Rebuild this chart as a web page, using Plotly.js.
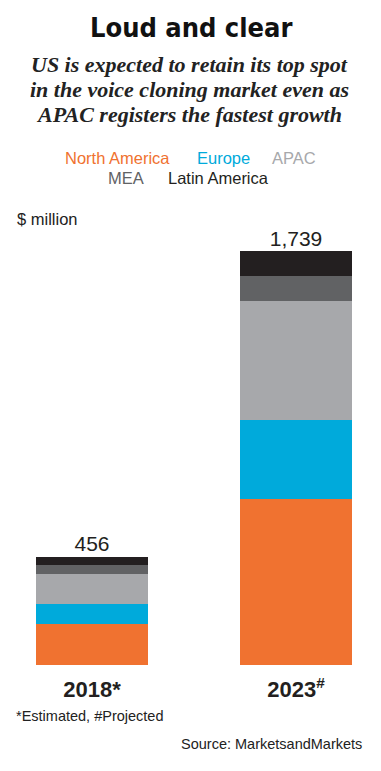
<!DOCTYPE html>
<html><head><meta charset="utf-8">
<script src="https://cdn.plot.ly/plotly-3.0.1.min.js"></script>
<style>html,body{margin:0;padding:0;background:#fff}#chart{width:381px;height:771px}</style>
</head><body><div id="chart"></div>
<script>
const years = ["2018", "2023"];
const yearLabels = ["<b>2018*</b>", "<b>2023<sup>#</sup></b>"];
const regions = ["North America", "Europe", "APAC", "MEA", "Latin America"];
const colors = ["#F07230", "#00AADB", "#A7A8AB", "#616264", "#231F20"];
const northAmerica = [172, 697];
const europe = [86, 335];
const apac = [124, 497];
const mea = [38, 108];
const latinAmerica = [36, 102];
const totals = [456, 1739];
const totalLabels = ["456", "1,739"];
const seriesValues = [northAmerica, europe, apac, mea, latinAmerica];

const W = 381, H = 771, T = 230, B = 105.5;
const plotH = H - T - B;
function py(Y) { return (H - B - Y) / plotH; }
function px(X) { return X / W; }

const traces = regions.map((r, i) => ({
  type: "bar", name: r, x: years, y: seriesValues[i],
  marker: { color: colors[i], line: { width: 0 } },
  width: 0.549, hoverinfo: "skip"
}));
traces.push({
  type: "scatter", mode: "text", x: years, y: totals, text: totalLabels,
  textposition: "top center",
  textfont: { family: "Liberation Sans, Arial, sans-serif", size: 21, color: "#231F20" },
  hoverinfo: "skip", showlegend: false
});

const font = "Liberation Sans, Arial, sans-serif";
const serif = "Liberation Serif, DejaVu Serif, serif";
const annotations = [
  { text: "<b>Loud and clear</b>", x: px(190.5), y: py(27), font: { family: "DejaVu Sans Condensed, Liberation Sans Narrow, sans-serif", size: 27, color: "#111" } },
  { text: "<b><i>US is expected to retain its top spot</i></b>", x: px(189), y: py(64), font: { family: serif, size: 22, color: "#222" } },
  { text: "<b><i>in the voice cloning market even as</i></b>", x: px(189), y: py(89), font: { family: serif, size: 22, color: "#222" } },
  { text: "<b><i>APAC registers the fastest growth</i></b>", x: px(189), y: py(114), font: { family: serif, size: 22, color: "#222" } },
  { text: regions[0], x: px(117), y: py(158), font: { family: font, size: 16.5, color: colors[0] } },
  { text: regions[1], x: px(223), y: py(158), font: { family: font, size: 16.5, color: colors[1] } },
  { text: regions[2], x: px(294), y: py(158), font: { family: font, size: 16.5, color: colors[2] } },
  { text: regions[3], x: px(126), y: py(178), font: { family: font, size: 16.5, color: colors[3] } },
  { text: regions[4], x: px(218), y: py(178), font: { family: font, size: 16.5, color: colors[4] } },
  { text: "$ million", x: px(15), y: py(219), xanchor: "left", font: { family: font, size: 16.5, color: "#222" } },
  { text: "*Estimated, #Projected", x: px(14), y: py(717), xanchor: "left", font: { family: font, size: 14.5, color: "#222" } },
  { text: "Source: MarketsandMarkets", x: px(364), y: py(745), xanchor: "right", font: { family: font, size: 14.5, color: "#222" } }
].map(a => Object.assign({ xref: "paper", yref: "paper", showarrow: false, xanchor: "center", yanchor: "middle" }, a));

const layout = {
  width: W, height: H, barmode: "stack", showlegend: false,
  paper_bgcolor: "#fff", plot_bgcolor: "#fff",
  margin: { l: 0, r: 0, t: T, b: B, pad: 0 },
  xaxis: {
    type: "category", range: [-92 / 204, (W - 92) / 204], tickvals: years, ticktext: yearLabels,
    ticks: "outside", ticklen: 5, tickcolor: "rgba(0,0,0,0)", showline: false, showgrid: false, zeroline: false,
    tickfont: { family: font, size: 22, color: "#231F20" }, fixedrange: true
  },
  yaxis: { range: [0, plotH * 4.2], visible: false, showgrid: false, zeroline: false, fixedrange: true },
  annotations: annotations
};
Plotly.newPlot("chart", traces, layout, { displayModeBar: false, staticPlot: true });
</script></body></html>
